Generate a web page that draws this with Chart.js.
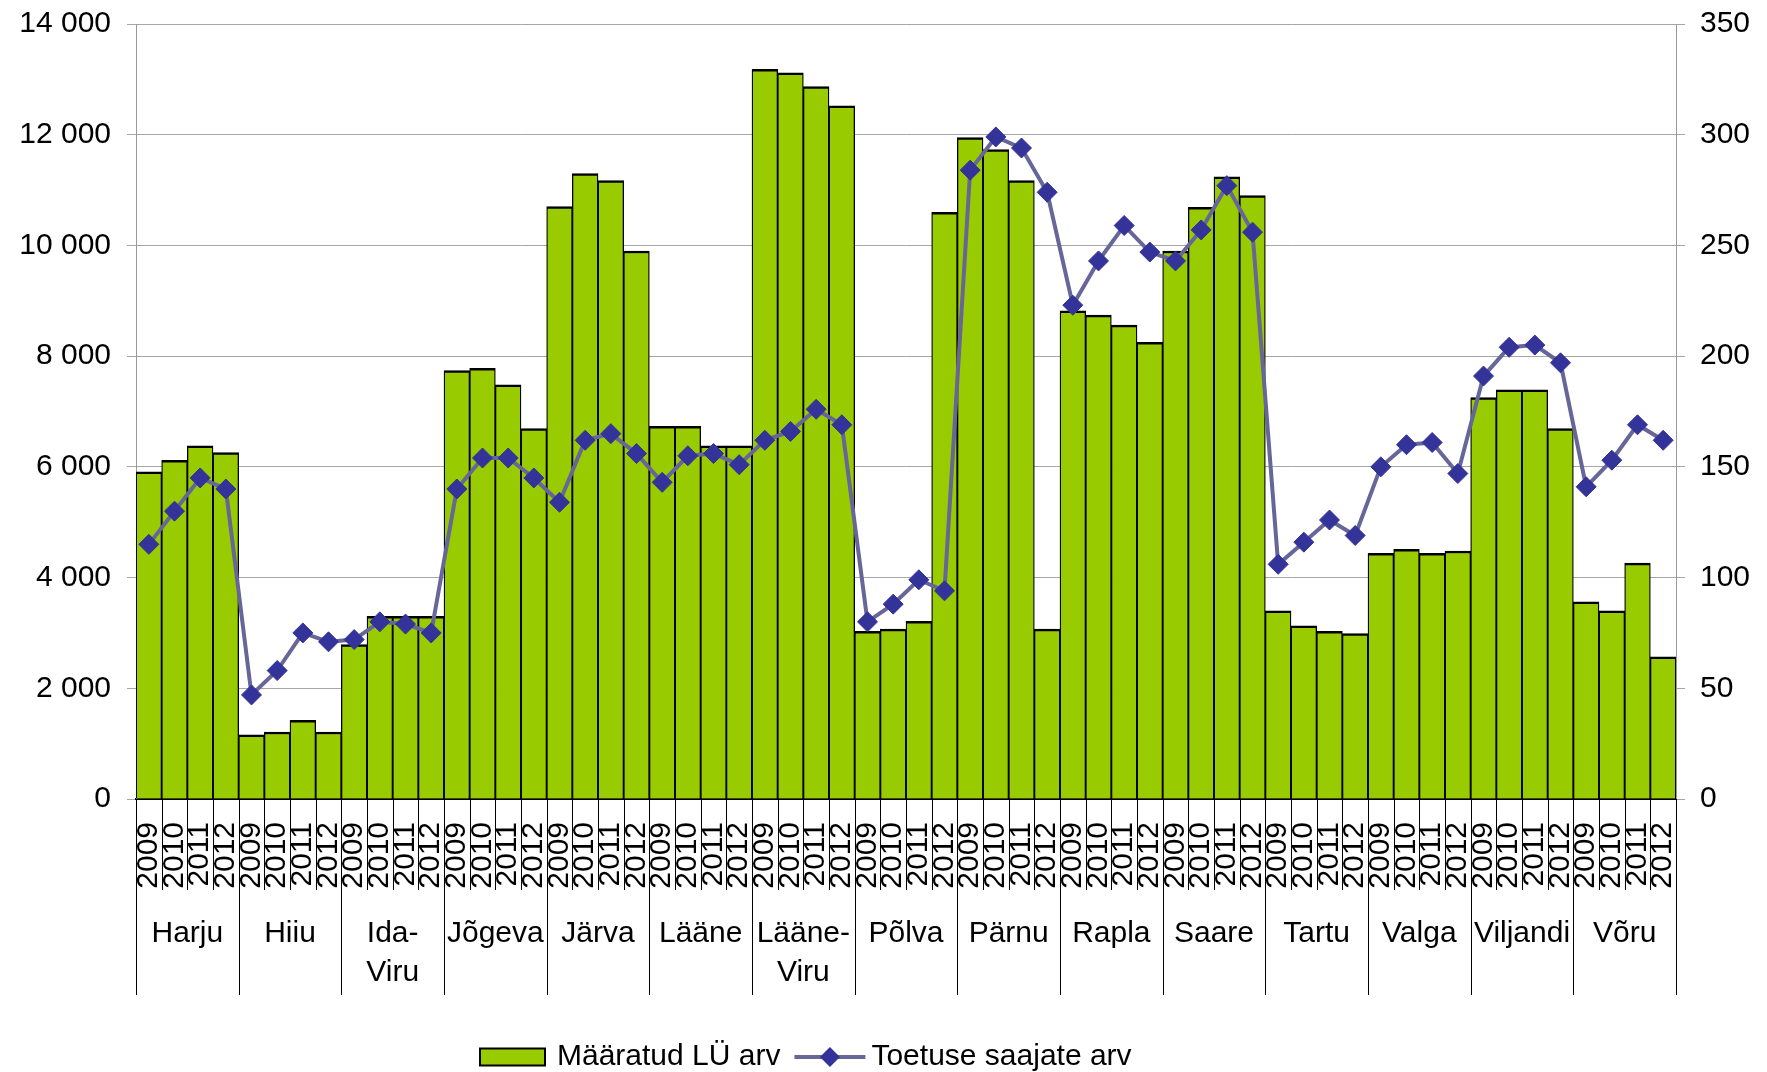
<!DOCTYPE html>
<html lang="et">
<head>
  <meta charset="utf-8">
  <title>Määratud LÜ arv ja toetuse saajate arv</title>
  <script src="https://cdn.jsdelivr.net/npm/chart.js@4.4.0/dist/chart.umd.min.js"></script>
  <style>
    body { margin: 0; background: #fff; }
  </style>
</head>
<body>
  <canvas id="chart" width="1767" height="1072"></canvas>
  <script>
    var counties = ['Harju', 'Hiiu', 'Ida-Viru', 'Jõgeva', 'Järva', 'Lääne', 'Lääne-Viru',
      'Põlva', 'Pärnu', 'Rapla', 'Saare', 'Tartu', 'Valga', 'Viljandi', 'Võru'];
    var years = ['2009', '2010', '2011', '2012'];

    // Määratud LÜ arv, 4 years per county (left axis)
    var luArv = [
      5910, 6120, 6380, 6260,
      1160, 1210, 1420, 1210,
      2790, 3300, 3300, 3300,
      7740, 7780, 7480, 6690,
      10700, 11300, 11170, 9900,
      6730, 6730, 6380, 6380,
      13180, 13120, 12870, 12520,
      3030, 3070, 3210, 10600,
      11950, 11730, 11170, 3070,
      8820, 8740, 8560, 8250,
      9900, 10690, 11240, 10900,
      3400, 3130, 3030, 2990,
      4440, 4510, 4440, 4480,
      7250, 7390, 7390, 6690,
      3560, 3400, 4260, 2570
    ];

    // Toetuse saajate arv (right axis)
    var toetus = [
      115, 130, 145, 140,
      47, 58, 75, 71,
      72, 80, 79, 75,
      140, 154, 154, 145,
      134, 162, 165, 156,
      143, 155, 156, 151,
      162, 166, 176, 169,
      80, 88, 99, 94,
      284, 299, 294, 274,
      223, 243, 259, 247,
      243, 257, 277, 256,
      106, 116, 126, 119,
      150, 160, 161, 147,
      191, 204, 205, 197,
      141, 153, 169, 162
    ];

    var labels = [];
    counties.forEach(function () {
      years.forEach(function (y) { labels.push(y); });
    });

    var FONT = '"Liberation Sans", Arial, sans-serif';
    Chart.defaults.font.family = FONT;
    Chart.defaults.font.size = 30;
    Chart.defaults.color = '#000';

    var spaced = function (v) {
      return String(v).replace(/\B(?=(\d{3})+(?!\d))/g, ' ');
    };

    // county names, group separators and the legend under the axis
    var groupPlugin = {
      id: 'groups',
      afterDraw: function (chart) {
        var ctx = chart.ctx;
        var x = chart.scales.x;
        var area = chart.chartArea;
        var step = x.getPixelForValue(1) - x.getPixelForValue(0);

        ctx.save();
        ctx.strokeStyle = '#000';
        ctx.lineWidth = 1;
        for (var i = 0; i <= labels.length; i++) {
          var px = Math.round(x.getPixelForValue(i) - step / 2) + 0.5;
          ctx.beginPath();
          ctx.moveTo(px, area.bottom);
          ctx.lineTo(px, area.bottom + (i % years.length === 0 ? 196 : 91));
          ctx.stroke();
        }

        ctx.fillStyle = '#000';
        ctx.font = '30px ' + FONT;
        ctx.textAlign = 'center';
        ctx.textBaseline = 'alphabetic';
        counties.forEach(function (name, g) {
          var cx = (x.getPixelForValue(g * 4) + x.getPixelForValue(g * 4 + 3)) / 2;
          var dash = name.indexOf('-');
          var lines = dash > 0 ? [name.slice(0, dash + 1), name.slice(dash + 1)] : [name];
          lines.forEach(function (t, k) {
            ctx.fillText(t, cx, area.bottom + 143 + k * 39);
          });
        });

        // legend
        var ds = chart.data.datasets;
        var ly = 1057;
        var lx = 480;
        ctx.textAlign = 'left';
        ctx.fillStyle = ds[1].backgroundColor;
        ctx.fillRect(lx, ly - 8.5, 65, 17);
        ctx.lineWidth = 2;
        ctx.strokeStyle = '#000';
        ctx.strokeRect(lx, ly - 8.5, 65, 17);
        ctx.fillStyle = '#000';
        ctx.fillText(ds[1].label, lx + 77, ly + 8);
        lx += 77 + ctx.measureText(ds[1].label).width + 14;

        ctx.strokeStyle = ds[0].borderColor;
        ctx.lineWidth = 4;
        ctx.beginPath();
        ctx.moveTo(lx, ly);
        ctx.lineTo(lx + 71, ly);
        ctx.stroke();
        ctx.fillStyle = ds[0].pointBackgroundColor;
        var dx = lx + 35.5;
        ctx.beginPath();
        ctx.moveTo(dx - 10, ly);
        ctx.lineTo(dx, ly - 10);
        ctx.lineTo(dx + 10, ly);
        ctx.lineTo(dx, ly + 10);
        ctx.closePath();
        ctx.fill();
        ctx.fillStyle = '#000';
        ctx.fillText(ds[0].label, lx + 77, ly + 8);
        ctx.restore();
      }
    };

    var noPad = function (scale, w) {
      scale.width = w;
      scale.paddingTop = 0;
      scale.paddingBottom = 0;
    };

    var config = {
      type: 'bar',
      data: {
        labels: labels,
        datasets: [{
          type: 'line',
          label: 'Toetuse saajate arv',
          data: toetus,
          yAxisID: 'y2',
          order: 0,
          borderColor: '#666699',
          borderWidth: 4,
          tension: 0,
          pointStyle: 'rectRot',
          pointRadius: 10,
          pointBackgroundColor: '#333399',
          pointBorderColor: '#333399',
          pointBorderWidth: 1
        }, {
          label: 'Määratud LÜ arv',
          data: luArv,
          yAxisID: 'y',
          order: 1,
          backgroundColor: '#99cc00',
          borderColor: '#000',
          borderWidth: { top: 2.5, left: 1.3, right: 1.3, bottom: 0 },
          categoryPercentage: 1,
          barPercentage: 1
        }]
      },
      options: {
        responsive: false,
        animation: false,
        layout: { padding: { top: 24, left: 0, right: 0, bottom: 0 } },
        plugins: {
          legend: { display: false },
          tooltip: { enabled: false }
        },
        scales: {
          x: {
            offset: true,
            grid: { display: true, drawOnChartArea: false, drawTicks: false },
            border: { color: '#000', width: 2 },
            ticks: {
              autoSkip: false,
              minRotation: 90,
              maxRotation: 90,
              padding: 23,
              font: { size: 30, lineHeight: 1 }
            },
            afterFit: function (scale) { scale.height = 273; }
          },
          y: {
            position: 'left',
            min: 0,
            max: 14000,
            ticks: { stepSize: 2000, padding: 16, callback: spaced },
            grid: { color: '#a6a6a6', tickLength: 9 },
            border: { color: '#999' },
            afterFit: function (scale) { noPad(scale, 136); }
          },
          y2: {
            position: 'right',
            min: 0,
            max: 350,
            ticks: { stepSize: 50, padding: 15 },
            grid: { drawOnChartArea: false, color: '#a6a6a6', tickLength: 9 },
            border: { color: '#999' },
            afterFit: function (scale) { noPad(scale, 91); }
          }
        }
      },
      plugins: [groupPlugin]
    };

    window.onload = function () {
      var ctx = document.getElementById('chart').getContext('2d');
      window.myChart = new Chart(ctx, config);
    };
  </script>
</body>
</html>
